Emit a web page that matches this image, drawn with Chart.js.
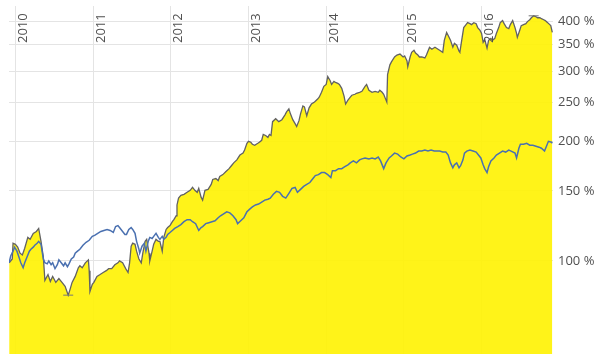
<!DOCTYPE html>
<html><head><meta charset="utf-8">
<script src="https://cdn.jsdelivr.net/npm/chart.js@4/dist/chart.umd.min.js"></script>
<style>html,body{margin:0;padding:0;background:#fff}#wrap{width:600px;height:360px;position:relative}</style>
</head><body><div id="wrap"><canvas id="c"></canvas></div>
<script>
const yearTicks = [2010, 2011, 2012, 2013, 2014, 2015, 2016];
const percentTicks = [100, 150, 200, 250, 300, 350, 400];

const fundDates = [
2009.92,2009.96,2009.97,2010.00,2010.03,2010.06,2010.09,2010.12,2010.16,2010.19,
2010.23,2010.27,2010.30,2010.33,2010.36,2010.38,2010.42,2010.45,2010.48,2010.52,
2010.56,2010.60,2010.64,2010.68,2010.70,2010.73,2010.77,2010.81,2010.83,2010.86,
2010.90,2010.94,2010.95,2010.96,2010.99,2011.01,2011.05,2011.09,2011.13,2011.17,
2011.20,2011.24,2011.28,2011.32,2011.34,2011.38,2011.42,2011.45,2011.47,2011.49,
2011.51,2011.54,2011.56,2011.59,2011.62,2011.64,2011.67,2011.69,2011.72,2011.73,
2011.76,2011.78,2011.81,2011.84,2011.86,2011.89,2011.91,2011.94,2011.96,2011.99,
2012.02,2012.04,2012.07,2012.08,2012.10,2012.13,2012.17,2012.21,2012.25,2012.28,
2012.31,2012.34,2012.36,2012.39,2012.41,2012.44,2012.48,2012.52,2012.54,2012.58,
2012.61,2012.63,2012.67,2012.71,2012.75,2012.78,2012.81,2012.85,2012.89,2012.93,
2012.95,2012.98,2013.00,2013.03,2013.05,2013.08,2013.12,2013.14,2013.17,2013.19,
2013.22,2013.25,2013.27,2013.29,2013.31,2013.35,2013.39,2013.43,2013.47,2013.49,
2013.52,2013.54,2013.57,2013.60,2013.62,2013.65,2013.67,2013.70,2013.72,2013.75,
2013.78,2013.81,2013.85,2013.89,2013.91,2013.94,2013.97,2014.00,2014.02,2014.05,
2014.07,2014.10,2014.12,2014.15,2014.17,2014.20,2014.23,2014.25,2014.28,2014.31,
2014.33,2014.37,2014.39,2014.43,2014.46,2014.50,2014.52,2014.55,2014.59,2014.63,
2014.67,2014.69,2014.72,2014.74,2014.77,2014.78,2014.79,2014.82,2014.84,2014.88,
2014.91,2014.95,2014.99,2015.01,2015.04,2015.05,2015.08,2015.10,2015.13,2015.15,
2015.18,2015.20,2015.23,2015.27,2015.29,2015.33,2015.36,2015.40,2015.44,2015.46,
2015.50,2015.52,2015.55,2015.57,2015.60,2015.63,2015.65,2015.68,2015.71,2015.72,
2015.75,2015.77,2015.80,2015.82,2015.85,2015.87,2015.90,2015.93,2015.95,2015.98,
2016.00,2016.02,2016.04,2016.07,2016.09,2016.12,2016.14,2016.17,2016.19,2016.22,
2016.24,2016.27,2016.29,2016.32,2016.35,2016.37,2016.40,2016.43,2016.45,2016.46,
2016.49,2016.51,2016.54,2016.57,2016.59,2016.62,2016.64,2016.67,2016.70,2016.72,
2016.75,2016.77,2016.80,2016.82,2016.85,2016.89,2016.91];
const fundValues = [
98.9,101.1,110.8,110.1,108.3,104.6,103.5,107.6,114.6,113.3,
117.3,118.6,120.7,112.0,102.3,89.3,92.4,88.8,91.4,88.3,
90.3,88.3,86.3,82.0,84.3,88.3,91.4,96.1,97.2,96.1,
98.9,100.6,94.5,83.8,87.3,88.3,91.4,92.4,93.5,94.5,
95.6,95.6,97.8,98.9,100.0,98.9,95.6,93.5,98.9,108.9,
110.8,110.1,105.8,101.1,98.9,104.6,112.0,113.3,104.6,100.0,
105.8,110.1,113.3,112.0,112.0,105.8,114.6,120.0,121.3,122.7,
125.5,127.0,129.9,138.3,143.9,146.2,147.1,148.8,150.5,153.1,
150.5,148.8,152.2,144.7,142.2,150.5,151.4,155.8,160.3,161.2,
159.3,163.1,164.9,167.8,170.7,173.6,176.5,179.6,184.7,186.8,
190.1,197.7,200.0,198.9,196.6,195.5,197.7,198.9,201.2,208.1,
206.9,204.6,208.1,206.9,224.1,228.0,224.1,226.7,233.2,237.1,
241.4,234.5,226.7,221.5,217.9,225.4,234.5,245.5,244.1,231.9,
242.8,248.2,251.1,255.5,258.3,265.7,275.0,278.1,291.0,284.6,
278.1,282.9,281.3,279.7,278.1,271.8,259.8,248.2,253.9,258.3,
261.2,262.7,264.2,265.7,267.2,275.0,278.1,268.8,265.7,267.2,
265.7,268.8,265.7,262.7,253.9,251.1,294.3,311.5,316.9,326.0,
329.7,331.6,326.0,327.9,318.8,308.1,326.0,335.0,338.8,333.6,
329.7,326.0,326.0,324.2,329.7,345.0,341.1,345.0,341.1,339.0,
335.0,359.1,375.8,369.4,359.1,345.0,353.0,349.0,337.1,335.0,
365.3,386.6,393.3,397.8,395.5,393.3,397.8,395.5,386.6,380.2,
373.7,354.9,361.1,343.2,359.1,363.2,359.1,363.2,373.7,386.6,
397.8,402.5,395.5,386.6,384.3,393.3,402.5,386.6,373.7,365.3,
380.2,391.0,393.3,395.5,400.2,404.6,409.3,413.9,411.6,409.3,
409.3,407.0,404.6,402.5,397.8,391.0,375.8];

const benchDates = [
2009.92,2009.94,2009.97,2009.99,2010.02,2010.05,2010.07,2010.10,2010.12,2010.15,
2010.18,2010.20,2010.23,2010.25,2010.28,2010.30,2010.33,2010.36,2010.38,2010.41,
2010.43,2010.46,2010.48,2010.51,2010.54,2010.56,2010.59,2010.62,2010.64,2010.67,
2010.69,2010.72,2010.75,2010.77,2010.80,2010.83,2010.87,2010.91,2010.95,2010.99,
2011.02,2011.06,2011.10,2011.14,2011.18,2011.22,2011.26,2011.29,2011.32,2011.34,
2011.38,2011.41,2011.43,2011.46,2011.49,2011.51,2011.54,2011.56,2011.59,2011.60,
2011.63,2011.66,2011.68,2011.71,2011.73,2011.76,2011.78,2011.81,2011.84,2011.86,
2011.89,2011.91,2011.94,2011.96,2011.99,2012.02,2012.05,2012.09,2012.13,2012.17,
2012.21,2012.25,2012.28,2012.32,2012.36,2012.39,2012.41,2012.45,2012.49,2012.53,
2012.57,2012.61,2012.64,2012.68,2012.72,2012.76,2012.80,2012.84,2012.86,2012.90,
2012.94,2012.98,2013.02,2013.05,2013.09,2013.13,2013.17,2013.21,2013.25,2013.28,
2013.32,2013.36,2013.40,2013.44,2013.48,2013.52,2013.56,2013.60,2013.63,2013.67,
2013.71,2013.75,2013.79,2013.83,2013.86,2013.90,2013.94,2013.98,2014.02,2014.06,
2014.08,2014.12,2014.16,2014.20,2014.24,2014.28,2014.31,2014.35,2014.39,2014.43,
2014.46,2014.50,2014.55,2014.59,2014.63,2014.67,2014.70,2014.74,2014.77,2014.81,
2014.84,2014.88,2014.92,2014.96,2015.00,2015.04,2015.08,2015.11,2015.15,2015.19,
2015.23,2015.27,2015.31,2015.35,2015.39,2015.42,2015.46,2015.50,2015.54,2015.57,
2015.60,2015.63,2015.65,2015.68,2015.71,2015.73,2015.76,2015.78,2015.81,2015.85,
2015.89,2015.93,2015.96,2015.99,2016.02,2016.04,2016.07,2016.09,2016.12,2016.16,
2016.19,2016.23,2016.27,2016.31,2016.35,2016.38,2016.43,2016.45,2016.48,2016.50,
2016.54,2016.58,2016.62,2016.66,2016.70,2016.74,2016.77,2016.81,2016.84,2016.86,
2016.90,2016.91];
const benchValues = [
98.9,102.9,105.8,108.3,105.8,101.7,98.9,96.1,98.9,102.3,
105.8,107.0,108.3,109.5,110.8,112.0,110.1,101.1,98.9,98.3,
100.0,97.8,98.9,95.6,97.8,100.6,98.9,97.2,98.9,96.7,
98.3,101.1,102.3,104.6,105.8,107.0,109.5,111.4,112.7,115.3,
115.9,117.3,118.6,119.3,120.0,119.3,117.9,122.0,122.7,121.3,
118.6,116.6,116.6,120.0,121.3,120.0,117.3,112.0,107.0,104.6,
108.9,110.8,105.8,112.0,114.6,113.9,115.3,117.3,114.6,113.3,
115.3,113.3,114.6,116.6,117.9,119.3,120.7,122.0,123.4,125.5,
127.0,127.0,125.5,124.1,119.3,121.3,122.0,124.1,124.8,125.5,
126.2,128.4,129.9,131.4,132.9,132.1,129.9,127.0,124.1,126.2,
128.4,132.9,135.2,136.7,138.3,139.0,140.6,142.2,143.0,143.9,
147.1,149.6,148.8,145.4,143.9,147.9,152.2,153.1,148.8,151.4,
154.0,155.8,157.5,161.2,164.0,164.9,166.8,166.8,164.9,162.1,
168.7,168.7,170.7,170.7,172.6,174.5,176.5,178.5,176.5,179.6,
180.6,181.6,180.6,181.6,180.6,182.6,178.5,170.7,176.5,181.6,
183.7,186.8,185.7,182.6,180.6,183.7,184.7,185.7,186.8,189.0,
189.0,190.1,189.0,190.1,189.0,189.0,189.0,187.9,187.9,184.7,
176.5,171.6,174.5,176.5,171.6,173.6,179.6,186.8,189.0,190.1,
189.0,187.9,184.7,181.6,174.5,170.7,166.8,172.6,178.5,181.6,
184.7,186.8,189.0,187.9,190.1,189.0,186.8,181.6,192.1,196.6,
196.6,197.7,195.5,195.5,194.4,193.3,192.1,189.0,195.5,200.0,
198.9,197.7];

const xRange = [2009.918, 2016.919];
const yRange = [58.3, 438.1];

function pairs(dates, values) {
  const n = Math.min(dates.length, values.length);
  const out = [];
  for (let i = 0; i < n; i++) out.push({x: dates[i], y: values[i]});
  return out;
}
const fundPts = pairs(fundDates, fundValues);
const benchPts = pairs(benchDates, benchValues);
let iMin = 0, iMax = 0;
fundPts.forEach((p, i) => { if (p.y < fundPts[iMin].y) iMin = i; if (p.y > fundPts[iMax].y) iMax = i; });
const extremes = [fundPts[iMin], fundPts[iMax]];

const font = {family: "'Open Sans', 'Noto Sans', sans-serif", size: 13};

new Chart(document.getElementById('c'), {
  type: 'line',
  data: {
    datasets: [
      {data: extremes, type: 'scatter', showLine: false, pointStyle: 'line', pointRadius: 5,
       borderColor: '#777', borderWidth: 1, order: 0},
      {data: benchPts, borderColor: '#4a70b0', borderWidth: 1.5, pointRadius: 0, fill: false, tension: 0, order: 1},
      {data: fundPts, borderColor: '#626262', borderWidth: 1.3, pointRadius: 0,
       backgroundColor: 'rgba(255,242,0,0.9)', fill: 'start', tension: 0, order: 2}
    ]
  },
  options: {
    responsive: true, maintainAspectRatio: false, animation: false,
    layout: {padding: {left: 9, right: 0, top: 0, bottom: 5}},
    plugins: {legend: {display: false}, tooltip: {enabled: false}},
    scales: {
      x: {
        type: 'linear', position: 'top', min: xRange[0], max: xRange[1], bounds: 'data',
        afterBuildTicks: s => { s.ticks = yearTicks.map(v => ({value: v})); },
        afterFit: s => { s.height = 0; s.paddingLeft = 0; s.paddingRight = 0; },
        ticks: {callback: v => String(v), minRotation: 90, maxRotation: 90, autoSkip: false,
                mirror: true, padding: 37, labelOffset: 8, z: 1, font: font, color: '#505050'},
        grid: {color: '#e4e4e4', drawTicks: false, lineWidth: 1},
        border: {display: false}
      },
      y: {
        type: 'logarithmic', position: 'right', min: yRange[0], max: yRange[1],
        afterBuildTicks: s => { s.ticks = percentTicks.map(v => ({value: v})); },
        afterFit: s => { s.width = 47; s.paddingTop = 0; s.paddingBottom = 0; },
        ticks: {callback: v => v + ' %', padding: 5, font: font, color: '#505050'},
        grid: {color: '#e4e4e4', drawTicks: false, lineWidth: 1},
        border: {display: false}
      }
    }
  }
});
</script></body></html>
